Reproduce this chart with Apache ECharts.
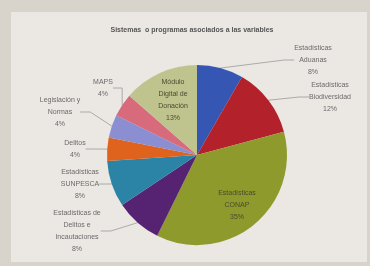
<!DOCTYPE html>
<html>
<head>
<meta charset="utf-8">
<script src="https://cdn.jsdelivr.net/npm/echarts@6/dist/echarts.min.js"></script>
<style>
  html, body { margin: 0; padding: 0; background: #d8d3cb; }
  #chart { width: 370px; height: 266px; }
</style>
</head>
<body>
<div id="chart"></div>
<script>
const title = 'Sistemas  o programas asociados a las variables'
const names = [
  'Estadísticas\nAduanas',
  'Estadísticas\nBiodiversidad',
  'Estadísticas\nCONAP',
  'Estadísticas de\nDelitos e\nIncautaciones',
  'Estadísticas\nSUNPESCA',
  'Delitos',
  'Legislación y\nNormas',
  'MAPS',
  'Módulo\nDigital de\nDonación'
]
const values = [8, 12, 35, 8, 8, 4, 4, 4, 13]
const colors = ['#3556b3', '#b3222a', '#8e9a2c', '#562373', '#2b84a6', '#df621d', '#8b8ed0', '#d76b7b', '#bfc48e']

// where each label sits (text centre)
const labelPos = [[313, 60], [330, 97], [237, 205], [77, 231], [80, 184], [75, 149], [60, 112], [103, 88], [173, 100]]
const insideIdx = [2, 8]

const chart = echarts.init(document.getElementById('chart'))
chart.setOption({
  backgroundColor: 'transparent',
  graphic: [{
    type: 'rect',
    shape: { x: 11, y: 12, width: 356, height: 250 },
    style: { fill: '#ebe8e4' },
    z: -10
  }],
  title: {
    text: title,
    left: 187,
    textAlign: 'center',
    top: 22,
    textStyle: { fontSize: 7, fontWeight: 'bold', color: '#555', fontFamily: 'Liberation Sans' }
  },
  series: [{
    type: 'pie',
    center: [197, 155],
    radius: 90,
    startAngle: 90,
    clockwise: true,
    animation: false,
    label: {
      formatter: (p) => p.name + '\n' + p.value + '%',
      fontSize: 7,
      lineHeight: 12,
      color: '#6a6a6a',
      align: 'center',
      fontFamily: 'Liberation Sans'
    },
    labelLine: { show: true, length: 10, length2: 10, lineStyle: { color: '#9a9a9a', width: 0.8 } },
    labelLayout: (p) => ({
      x: labelPos[p.dataIndex][0],
      y: labelPos[p.dataIndex][1],
      align: 'center',
      verticalAlign: 'middle'
    }),
    data: names.map((n, i) => ({
      name: n,
      value: values[i],
      itemStyle: { color: colors[i] },
      labelLine: { show: !insideIdx.includes(i) },
      label: insideIdx.includes(i) ? { color: '#4a4a30' } : {}
    }))
  }]
})
</script>
</body>
</html>
